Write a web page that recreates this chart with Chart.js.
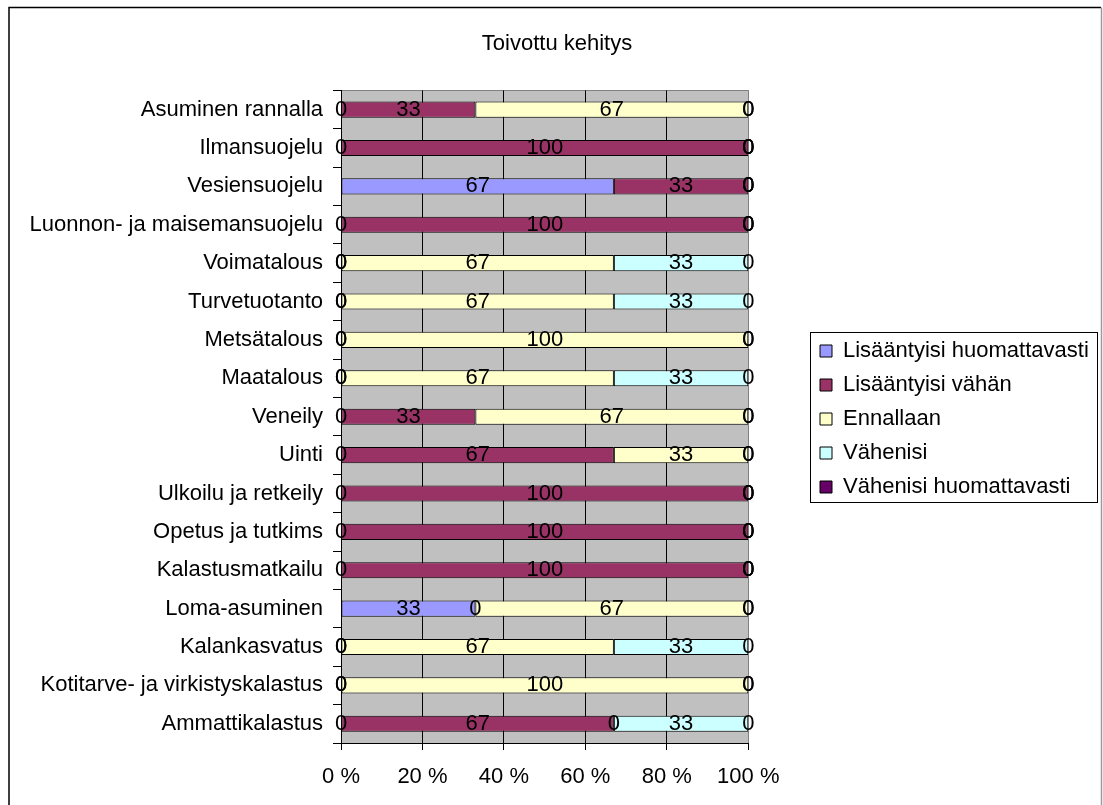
<!DOCTYPE html>
<html>
<head>
<meta charset="utf-8">
<title>Toivottu kehitys</title>
<script src="https://cdn.jsdelivr.net/npm/chart.js@4/dist/chart.umd.min.js"></script>
<style>
  html, body { margin: 0; padding: 0; background: #fff; }
  canvas { display: block; }
</style>
</head>
<body>
<canvas id="chart" width="1103" height="805"></canvas>
<script>
// Categories, listed top to bottom
const categories = [
  'Asuminen rannalla',
  'Ilmansuojelu',
  'Vesiensuojelu',
  'Luonnon- ja maisemansuojelu',
  'Voimatalous',
  'Turvetuotanto',
  'Metsätalous',
  'Maatalous',
  'Veneily',
  'Uinti',
  'Ulkoilu ja retkeily',
  'Opetus ja tutkims',
  'Kalastusmatkailu',
  'Loma-asuminen',
  'Kalankasvatus',
  'Kotitarve- ja virkistyskalastus',
  'Ammattikalastus'
];

const seriesNames = [
  'Lisääntyisi huomattavasti',
  'Lisääntyisi vähän',
  'Ennallaan',
  'Vähenisi',
  'Vähenisi huomattavasti'
];

// Share of answers (%) per category, same order as categories
const lisaantyisiHuomattavasti = [0, 0, 67, 0, 0, 0, 0, 0, 0, 0, 0, 0, 0, 33, 0, 0, 0];
const lisaantyisiVahan         = [33, 100, 33, 100, 0, 0, 0, 0, 33, 67, 100, 100, 100, 0, 0, 0, 67];
const ennallaan                = [67, 0, 0, 0, 67, 67, 100, 67, 67, 33, 0, 0, 0, 67, 67, 100, 0];
const vahenisi                 = [0, 0, 0, 0, 33, 33, 0, 33, 0, 0, 0, 0, 0, 0, 33, 0, 33];
const vahenisiHuomattavasti    = [0, 0, 0, 0, 0, 0, 0, 0, 0, 0, 0, 0, 0, 0, 0, 0, 0];

const percentTicks = [0, 20, 40, 60, 80, 100];

const seriesValues = [
  lisaantyisiHuomattavasti,
  lisaantyisiVahan,
  ennallaan,
  vahenisi,
  vahenisiHuomattavasti
];
const seriesColors = ['#9999FF', '#993366', '#FFFFCC', '#CCFFFF', '#660066'];

const FONT = '"Liberation Sans", Arial, Helvetica, sans-serif';
Chart.defaults.font.family = FONT;
Chart.defaults.font.size = 22;
Chart.defaults.color = '#000';

// Target geometry of the plot box, title and legend
const PLOT = { left: 341, right: 747, top: 90, bottom: 743 };
const TITLE_SPAN = { left: 12, right: 1102 };
const LEGEND_LEFT = 808;        // markers start 12px further right
const LEGEND_RIGHT = 1100;
const LEGEND_FIRST_ROW_TOP = 340;

// Grey plot area with a darker frame on top and right
const plotBackground = {
  id: 'plotBackground',
  beforeDraw(chart) {
    const { ctx, chartArea: a } = chart;
    ctx.save();
    ctx.fillStyle = '#C0C0C0';
    ctx.fillRect(a.left, a.top, a.right - a.left, a.bottom - a.top);
    ctx.strokeStyle = '#808080';
    ctx.lineWidth = 1;
    ctx.beginPath();
    ctx.moveTo(a.left, Math.round(a.top) + 0.5);
    ctx.lineTo(Math.round(a.right) + 0.5, Math.round(a.top) + 0.5);
    ctx.lineTo(Math.round(a.right) + 0.5, a.bottom);
    ctx.stroke();
    ctx.restore();
  }
};

// Place the title over the whole frame and the legend block beside the plot
const blockPlacement = {
  id: 'blockPlacement',
  afterLayout(chart) {
    const tb = chart.titleBlock;
    if (tb) {
      tb.left = TITLE_SPAN.left;
      tb.right = TITLE_SPAN.right;
      tb.width = TITLE_SPAN.right - TITLE_SPAN.left;
    }
    const lg = chart.legend;
    if (!lg) return;
    lg.left = LEGEND_LEFT;
    lg.right = LEGEND_RIGHT;
    lg.width = LEGEND_RIGHT - LEGEND_LEFT;
    const pad = lg.options.labels.padding;
    const colH = lg.columnSizes && lg.columnSizes[0] ? lg.columnSizes[0].height : 0;
    const cursorY = (lg.top + pad + lg.bottom - colH) / 2;
    const dy = LEGEND_FIRST_ROW_TOP - cursorY;
    lg.top += dy; lg.bottom += dy;
  }
};

// Value written in the middle of every bar segment
const valueLabels = {
  id: 'valueLabels',
  afterDatasetsDraw(chart) {
    const ctx = chart.ctx;
    ctx.save();
    ctx.font = '22px ' + FONT;
    ctx.fillStyle = '#000';
    ctx.textAlign = 'center';
    ctx.textBaseline = 'middle';
    chart.data.datasets.forEach((ds, i) => {
      const meta = chart.getDatasetMeta(i);
      meta.data.forEach((bar, j) => {
        const { x, y, base } = bar.getProps(['x', 'y', 'base'], true);
        ctx.fillText(String(ds.data[j]), (x + base) / 2, y);
      });
    });
    ctx.restore();
  }
};

// Legend frame and outer chart frame
const frames = {
  id: 'frames',
  afterDraw(chart) {
    const ctx = chart.ctx;
    ctx.save();
    const lg = chart.legend;
    if (lg && lg.legendHitBoxes && lg.legendHitBoxes.length) {
      const hb = lg.legendHitBoxes;
      const left = Math.min(...hb.map(h => h.left)) - 10;
      const right = Math.max(...hb.map(h => h.left + h.width)) + 8;
      const top = hb[0].top - 8;
      const last = hb[hb.length - 1];
      const bottom = last.top + last.height + 4;
      ctx.strokeStyle = '#000';
      ctx.lineWidth = 1;
      ctx.strokeRect(Math.round(left) + 0.5, Math.round(top) + 0.5,
                     Math.round(right - left), Math.round(bottom - top));
    }
    ctx.strokeStyle = '#000';
    ctx.lineWidth = 1.5;
    ctx.beginPath();
    ctx.moveTo(9, 820);
    ctx.lineTo(9, 7.5);
    ctx.lineTo(1101, 7.5);
    ctx.stroke();
    ctx.strokeStyle = '#9a9a9a';
    ctx.lineWidth = 1.5;
    ctx.beginPath();
    ctx.moveTo(1101.5, 7.5);
    ctx.lineTo(1101.5, 820);
    ctx.stroke();
    ctx.restore();
  }
};

const datasets = seriesNames.map((name, i) => ({
  label: name,
  data: seriesValues[i],
  backgroundColor: seriesColors[i],
  borderColor: '#000',
  borderWidth: 1,
  borderSkipped: false,
  categoryPercentage: 1.0,
  barPercentage: 0.42
}));

const config = {
  type: 'bar',
  data: { labels: categories, datasets },
  options: {
    indexAxis: 'y',
    responsive: false,
    animation: false,
    devicePixelRatio: 1,
    layout: { padding: { left: 0, top: 0, right: 0, bottom: 0 } },
    plugins: {
      title: {
        display: true,
        text: 'Toivottu kehitys',
        color: '#000',
        font: { size: 22, weight: 'normal', family: FONT },
        padding: { top: 31, bottom: 33 }
      },
      legend: {
        display: true,
        position: 'right',
        labels: {
          color: '#000',
          font: { size: 22, family: FONT },
          boxWidth: 12,
          boxHeight: 12,
          padding: 12
        }
      },
      tooltip: { enabled: false }
    },
    scales: {
      x: {
        stacked: true,
        min: 0,
        max: 100,
        afterBuildTicks(scale) {
          scale.ticks = percentTicks.map(v => ({ value: v }));
        },
        afterFit(scale) { scale.height = 805 - PLOT.bottom; },
        ticks: {
          color: '#000',
          font: { size: 22, family: FONT },
          padding: 14,
          maxRotation: 0,
          callback: v => v + ' %'
        },
        grid: {
          color: c => (c.tick && c.tick.value === 100) ? '#808080' : '#000',
          tickColor: '#000',
          lineWidth: 1,
          drawTicks: true,
          tickLength: 7
        },
        border: { display: true, color: '#000', width: 1 }
      },
      y: {
        stacked: true,
        afterFit(scale) { scale.width = PLOT.left; },
        ticks: {
          color: '#000',
          font: { size: 22, family: FONT },
          padding: 10,
          autoSkip: false
        },
        grid: {
          drawOnChartArea: false,
          drawTicks: true,
          tickLength: 8,
          tickColor: '#000',
          color: '#000'
        },
        border: { display: true, color: '#000', width: 1 }
      }
    }
  },
  plugins: [plotBackground, blockPlacement, valueLabels, frames]
};

const chart = new Chart(document.getElementById('chart'), config);

// Fit the plot box right edge next to the legend column
for (let k = 0; k < 3; k++) {
  const dRight = chart.chartArea.right - PLOT.right;
  if (Math.abs(dRight) < 0.5) break;
  config.options.layout.padding.right += dRight;
  chart.options.layout = config.options.layout;
  chart.update();
}
</script>
</body>
</html>
